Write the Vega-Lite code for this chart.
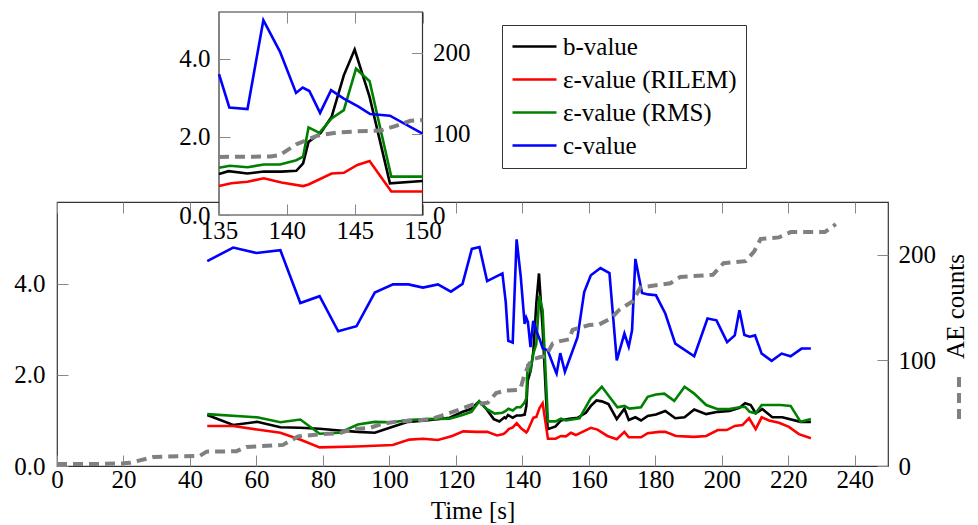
{
  "$schema": "https://vega.github.io/schema/vega-lite/v6.json",
  "width": 831,
  "height": 264,
  "autosize": {"type": "none"},
  "padding": {"left": 57, "top": 202, "right": 90, "bottom": 59},
  "background": "white",
  "config": {
    "font": "Liberation Serif",
    "view": {"stroke": "#333", "strokeWidth": 1.2},
    "axis": {
      "labelFont": "Liberation Serif", "labelFontSize": 25, "labelColor": "black",
      "titleFont": "Liberation Serif", "titleFontSize": 25, "titleFontWeight": "normal", "titleColor": "black",
      "tickColor": "#888", "tickSize": -11, "tickWidth": 1, "domain": false, "grid": false, "labelPadding": 6, "labelFlush": false, "labelOverlap": false
    },
    "legend": {
      "labelFont": "Liberation Serif", "labelFontSize": 25, "labelColor": "black", "labelLimit": 400
    }
  },
  "datasets": {
    "lines": [
      {"s":"b-value","t":45.2,"v":1.12},{"s":"b-value","t":53,"v":0.9},{"s":"b-value","t":60.2,"v":0.97},{"s":"b-value","t":67.2,"v":0.85},{"s":"b-value","t":73.2,"v":0.84},{"s":"b-value","t":79,"v":0.82},{"s":"b-value","t":85,"v":0.78},{"s":"b-value","t":90.5,"v":0.75},{"s":"b-value","t":95.6,"v":0.73},{"s":"b-value","t":101,"v":0.86},{"s":"b-value","t":105.6,"v":0.97},{"s":"b-value","t":111.1,"v":1.0},{"s":"b-value","t":118.1,"v":1.06},{"s":"b-value","t":122.1,"v":1.19},{"s":"b-value","t":124.5,"v":1.25},{"s":"b-value","t":127,"v":1.42},{"s":"b-value","t":129.1,"v":1.26},{"s":"b-value","t":131.4,"v":1.03},{"s":"b-value","t":133.1,"v":0.98},{"s":"b-value","t":134.6,"v":1.07},{"s":"b-value","t":135,"v":1.05},{"s":"b-value","t":135.7,"v":1.12},{"s":"b-value","t":137.1,"v":1.06},{"s":"b-value","t":138.3,"v":1.11},{"s":"b-value","t":139.6,"v":1.11},{"s":"b-value","t":140.7,"v":1.13},{"s":"b-value","t":141.2,"v":1.32},{"s":"b-value","t":141.6,"v":1.87},{"s":"b-value","t":142.5,"v":2.1},{"s":"b-value","t":143.3,"v":2.51},{"s":"b-value","t":144.2,"v":3.57},{"s":"b-value","t":145.0,"v":4.23},{"s":"b-value","t":146.1,"v":3.02},{"s":"b-value","t":147.6,"v":0.81},{"s":"b-value","t":150,"v":0.87},{"s":"b-value","t":151.6,"v":1.0},{"s":"b-value","t":154.1,"v":1.04},{"s":"b-value","t":156.6,"v":1.06},{"s":"b-value","t":159.1,"v":1.17},{"s":"b-value","t":160.6,"v":1.32},{"s":"b-value","t":162.3,"v":1.44},{"s":"b-value","t":163.9,"v":1.42},{"s":"b-value","t":165.9,"v":1.36},{"s":"b-value","t":168.4,"v":1.03},{"s":"b-value","t":170.7,"v":1.26},{"s":"b-value","t":172.0,"v":1.01},{"s":"b-value","t":174.0,"v":1.07},{"s":"b-value","t":175.7,"v":1.0},{"s":"b-value","t":177.7,"v":1.1},{"s":"b-value","t":180.2,"v":1.13},{"s":"b-value","t":183.0,"v":1.21},{"s":"b-value","t":186.0,"v":1.05},{"s":"b-value","t":188.8,"v":1.07},{"s":"b-value","t":191.7,"v":1.24},{"s":"b-value","t":195.3,"v":1.14},{"s":"b-value","t":198.8,"v":1.19},{"s":"b-value","t":202.3,"v":1.21},{"s":"b-value","t":205.3,"v":1.28},{"s":"b-value","t":207,"v":1.38},{"s":"b-value","t":208.7,"v":1.34},{"s":"b-value","t":210.2,"v":1.16},{"s":"b-value","t":212.2,"v":1.25},{"s":"b-value","t":215.2,"v":1.07},{"s":"b-value","t":218.2,"v":1.07},{"s":"b-value","t":223.7,"v":0.97},{"s":"b-value","t":226.8,"v":0.97},
      {"s":"ε-value (RILEM)","t":45.2,"v":0.88},{"s":"ε-value (RILEM)","t":53,"v":0.88},{"s":"ε-value (RILEM)","t":60.2,"v":0.8},{"s":"ε-value (RILEM)","t":67.2,"v":0.73},{"s":"ε-value (RILEM)","t":73.5,"v":0.57},{"s":"ε-value (RILEM)","t":79,"v":0.41},{"s":"ε-value (RILEM)","t":90,"v":0.43},{"s":"ε-value (RILEM)","t":101,"v":0.46},{"s":"ε-value (RILEM)","t":106,"v":0.58},{"s":"ε-value (RILEM)","t":110.1,"v":0.6},{"s":"ε-value (RILEM)","t":114.6,"v":0.57},{"s":"ε-value (RILEM)","t":118.9,"v":0.66},{"s":"ε-value (RILEM)","t":122.2,"v":0.76},{"s":"ε-value (RILEM)","t":126.2,"v":0.75},{"s":"ε-value (RILEM)","t":129.4,"v":0.75},{"s":"ε-value (RILEM)","t":132.4,"v":0.67},{"s":"ε-value (RILEM)","t":134.3,"v":0.7},{"s":"ε-value (RILEM)","t":135,"v":0.74},{"s":"ε-value (RILEM)","t":135.9,"v":0.81},{"s":"ε-value (RILEM)","t":137.1,"v":0.85},{"s":"ε-value (RILEM)","t":138.3,"v":0.94},{"s":"ε-value (RILEM)","t":139.6,"v":0.83},{"s":"ε-value (RILEM)","t":141.2,"v":0.74},{"s":"ε-value (RILEM)","t":141.6,"v":0.78},{"s":"ε-value (RILEM)","t":143.3,"v":1.06},{"s":"ε-value (RILEM)","t":144.2,"v":1.08},{"s":"ε-value (RILEM)","t":145.2,"v":1.28},{"s":"ε-value (RILEM)","t":146.1,"v":1.38},{"s":"ε-value (RILEM)","t":147.7,"v":0.6},{"s":"ε-value (RILEM)","t":150,"v":0.6},{"s":"ε-value (RILEM)","t":151.6,"v":0.66},{"s":"ε-value (RILEM)","t":153.1,"v":0.65},{"s":"ε-value (RILEM)","t":154.6,"v":0.73},{"s":"ε-value (RILEM)","t":156.1,"v":0.68},{"s":"ε-value (RILEM)","t":158.1,"v":0.75},{"s":"ε-value (RILEM)","t":160.6,"v":0.84},{"s":"ε-value (RILEM)","t":162.6,"v":0.8},{"s":"ε-value (RILEM)","t":165.6,"v":0.66},{"s":"ε-value (RILEM)","t":168.4,"v":0.59},{"s":"ε-value (RILEM)","t":170.7,"v":0.75},{"s":"ε-value (RILEM)","t":172.0,"v":0.63},{"s":"ε-value (RILEM)","t":175.7,"v":0.63},{"s":"ε-value (RILEM)","t":177.7,"v":0.72},{"s":"ε-value (RILEM)","t":181.2,"v":0.75},{"s":"ε-value (RILEM)","t":183.0,"v":0.75},{"s":"ε-value (RILEM)","t":186.2,"v":0.66},{"s":"ε-value (RILEM)","t":191.7,"v":0.64},{"s":"ε-value (RILEM)","t":195.3,"v":0.66},{"s":"ε-value (RILEM)","t":198.8,"v":0.79},{"s":"ε-value (RILEM)","t":201.5,"v":0.79},{"s":"ε-value (RILEM)","t":203.9,"v":0.88},{"s":"ε-value (RILEM)","t":206.2,"v":0.9},{"s":"ε-value (RILEM)","t":208.2,"v":1.05},{"s":"ε-value (RILEM)","t":210.2,"v":0.81},{"s":"ε-value (RILEM)","t":212,"v":1.07},{"s":"ε-value (RILEM)","t":214.2,"v":1.0},{"s":"ε-value (RILEM)","t":217.2,"v":0.95},{"s":"ε-value (RILEM)","t":220.2,"v":0.86},{"s":"ε-value (RILEM)","t":223.2,"v":0.7},{"s":"ε-value (RILEM)","t":226.8,"v":0.61},
      {"s":"ε-value (RMS)","t":45.2,"v":1.14},{"s":"ε-value (RMS)","t":60.2,"v":1.07},{"s":"ε-value (RMS)","t":67.2,"v":0.96},{"s":"ε-value (RMS)","t":73.2,"v":1.02},{"s":"ε-value (RMS)","t":79,"v":0.71},{"s":"ε-value (RMS)","t":85,"v":0.73},{"s":"ε-value (RMS)","t":90.5,"v":0.91},{"s":"ε-value (RMS)","t":95.6,"v":0.97},{"s":"ε-value (RMS)","t":101,"v":0.96},{"s":"ε-value (RMS)","t":105.6,"v":1.01},{"s":"ε-value (RMS)","t":111,"v":1.03},{"s":"ε-value (RMS)","t":118.1,"v":1.04},{"s":"ε-value (RMS)","t":122,"v":1.12},{"s":"ε-value (RMS)","t":124.7,"v":1.19},{"s":"ε-value (RMS)","t":127,"v":1.42},{"s":"ε-value (RMS)","t":129.1,"v":1.26},{"s":"ε-value (RMS)","t":131.7,"v":1.15},{"s":"ε-value (RMS)","t":134,"v":1.17},{"s":"ε-value (RMS)","t":135,"v":1.21},{"s":"ε-value (RMS)","t":135.8,"v":1.26},{"s":"ε-value (RMS)","t":137.1,"v":1.22},{"s":"ε-value (RMS)","t":138.3,"v":1.29},{"s":"ε-value (RMS)","t":139.5,"v":1.29},{"s":"ε-value (RMS)","t":140.7,"v":1.4},{"s":"ε-value (RMS)","t":141.2,"v":1.49},{"s":"ε-value (RMS)","t":141.6,"v":2.24},{"s":"ε-value (RMS)","t":142.4,"v":2.1},{"s":"ε-value (RMS)","t":143.3,"v":2.47},{"s":"ε-value (RMS)","t":144.2,"v":2.68},{"s":"ε-value (RMS)","t":145.1,"v":3.74},{"s":"ε-value (RMS)","t":146.1,"v":3.42},{"s":"ε-value (RMS)","t":147.7,"v":0.98},{"s":"ε-value (RMS)","t":150,"v":0.98},{"s":"ε-value (RMS)","t":151.6,"v":1.04},{"s":"ε-value (RMS)","t":153.1,"v":1.0},{"s":"ε-value (RMS)","t":157.2,"v":1.05},{"s":"ε-value (RMS)","t":160.6,"v":1.49},{"s":"ε-value (RMS)","t":161.6,"v":1.56},{"s":"ε-value (RMS)","t":163.9,"v":1.74},{"s":"ε-value (RMS)","t":168.6,"v":1.29},{"s":"ε-value (RMS)","t":170.7,"v":1.32},{"s":"ε-value (RMS)","t":172.2,"v":1.26},{"s":"ε-value (RMS)","t":175.7,"v":1.29},{"s":"ε-value (RMS)","t":177.7,"v":1.52},{"s":"ε-value (RMS)","t":180.2,"v":1.57},{"s":"ε-value (RMS)","t":182.7,"v":1.59},{"s":"ε-value (RMS)","t":185.7,"v":1.43},{"s":"ε-value (RMS)","t":188.8,"v":1.74},{"s":"ε-value (RMS)","t":191.7,"v":1.59},{"s":"ε-value (RMS)","t":195.3,"v":1.34},{"s":"ε-value (RMS)","t":198.8,"v":1.25},{"s":"ε-value (RMS)","t":202.3,"v":1.25},{"s":"ε-value (RMS)","t":205.3,"v":1.29},{"s":"ε-value (RMS)","t":207.0,"v":1.3},{"s":"ε-value (RMS)","t":208.4,"v":1.19},{"s":"ε-value (RMS)","t":210.2,"v":1.16},{"s":"ε-value (RMS)","t":212,"v":1.34},{"s":"ε-value (RMS)","t":217.7,"v":1.34},{"s":"ε-value (RMS)","t":220.7,"v":1.32},{"s":"ε-value (RMS)","t":223.7,"v":0.97},{"s":"ε-value (RMS)","t":226.8,"v":1.03},
      {"s":"c-value","t":45.2,"v":4.5},{"s":"c-value","t":53,"v":4.8},{"s":"c-value","t":60,"v":4.68},{"s":"c-value","t":67.2,"v":4.74},{"s":"c-value","t":73.2,"v":3.58},{"s":"c-value","t":79,"v":3.73},{"s":"c-value","t":84.6,"v":2.96},{"s":"c-value","t":90.1,"v":3.07},{"s":"c-value","t":95.6,"v":3.81},{"s":"c-value","t":101.1,"v":3.99},{"s":"c-value","t":105.7,"v":3.99},{"s":"c-value","t":110.1,"v":3.92},{"s":"c-value","t":114.6,"v":3.99},{"s":"c-value","t":118.5,"v":3.83},{"s":"c-value","t":122,"v":4.0},{"s":"c-value","t":124.8,"v":4.77},{"s":"c-value","t":127.1,"v":4.81},{"s":"c-value","t":129.4,"v":4.06},{"s":"c-value","t":134,"v":4.23},{"s":"c-value","t":135,"v":3.6},{"s":"c-value","t":135.76,"v":2.75},{"s":"c-value","t":137.1,"v":2.71},{"s":"c-value","t":138.27,"v":4.98},{"s":"c-value","t":139.5,"v":4.17},{"s":"c-value","t":140.68,"v":3.12},{"s":"c-value","t":141.17,"v":3.26},{"s":"c-value","t":141.66,"v":3.17},{"s":"c-value","t":142.45,"v":2.61},{"s":"c-value","t":143.26,"v":3.19},{"s":"c-value","t":144.17,"v":2.98},{"s":"c-value","t":145.28,"v":2.77},{"s":"c-value","t":146.14,"v":2.58},{"s":"c-value","t":147.6,"v":2.54},{"s":"c-value","t":150,"v":2.08},{"s":"c-value","t":150.3,"v":2.03},{"s":"c-value","t":151.4,"v":2.48},{"s":"c-value","t":152.8,"v":2.07},{"s":"c-value","t":156.6,"v":2.83},{"s":"c-value","t":158.6,"v":3.82},{"s":"c-value","t":160.6,"v":4.19},{"s":"c-value","t":163.5,"v":4.35},{"s":"c-value","t":166.2,"v":4.24},{"s":"c-value","t":168.4,"v":2.32},{"s":"c-value","t":170.7,"v":2.91},{"s":"c-value","t":172.0,"v":2.62},{"s":"c-value","t":173.0,"v":2.98},{"s":"c-value","t":174.0,"v":4.55},{"s":"c-value","t":176.0,"v":3.8},{"s":"c-value","t":177.8,"v":3.77},{"s":"c-value","t":180.2,"v":3.75},{"s":"c-value","t":183.0,"v":3.35},{"s":"c-value","t":186.0,"v":2.69},{"s":"c-value","t":191.7,"v":2.41},{"s":"c-value","t":195.7,"v":3.24},{"s":"c-value","t":198.4,"v":3.2},{"s":"c-value","t":201.6,"v":2.72},{"s":"c-value","t":203.9,"v":2.87},{"s":"c-value","t":205.3,"v":3.42},{"s":"c-value","t":206.8,"v":2.88},{"s":"c-value","t":208.4,"v":2.84},{"s":"c-value","t":210.0,"v":2.87},{"s":"c-value","t":212.0,"v":2.47},{"s":"c-value","t":215.0,"v":2.31},{"s":"c-value","t":218.0,"v":2.47},{"s":"c-value","t":220.7,"v":2.41},{"s":"c-value","t":224.0,"v":2.58},{"s":"c-value","t":226.8,"v":2.58}
    ],
    "ae": [
      {"t":0,"ae":2},{"t":13,"ae":2},{"t":20,"ae":2.5},{"t":22,"ae":3},{"t":29,"ae":8.5},{"t":43,"ae":9.7},{"t":45,"ae":13.6},{"t":54,"ae":14},{"t":57,"ae":18},{"t":68,"ae":20},{"t":72.5,"ae":28},{"t":79,"ae":30},{"t":85,"ae":31},{"t":89,"ae":35},{"t":94,"ae":36},{"t":98,"ae":40},{"t":102,"ae":42},{"t":112,"ae":44},{"t":116,"ae":48},{"t":118,"ae":50},{"t":125,"ae":58},{"t":129.6,"ae":60},{"t":132.1,"ae":69},{"t":135,"ae":71.5},{"t":138.8,"ae":72},{"t":139.5,"ae":74},{"t":140.7,"ae":87},{"t":142.2,"ae":97.5},{"t":143.7,"ae":101.6},{"t":145.2,"ae":103},{"t":146.9,"ae":104},{"t":148.1,"ae":110},{"t":149.1,"ae":116},{"t":150,"ae":117},{"t":151.1,"ae":118},{"t":154.1,"ae":120},{"t":155.1,"ae":129},{"t":160.1,"ae":133.5},{"t":163.1,"ae":134},{"t":166.7,"ae":140},{"t":169.2,"ae":148},{"t":173.2,"ae":156},{"t":175.5,"ae":169},{"t":184.5,"ae":173},{"t":187.5,"ae":179},{"t":197.3,"ae":181},{"t":200.5,"ae":192},{"t":207.2,"ae":194},{"t":209.7,"ae":203},{"t":211.7,"ae":215},{"t":217.2,"ae":216.5},{"t":220.7,"ae":221.5},{"t":231,"ae":221.5},{"t":234.3,"ae":229}
    ]
  },
  "layer": [
    {
      "layer": [
        {
          "data": {"name": "lines"},
          "mark": {"type": "line", "strokeWidth": 2.6},
          "encoding": {
            "x": {"field": "t", "type": "quantitative", "scale": {"domain": [0, 250], "nice": false},
                  "axis": {"orient": "bottom", "values": [0,20,40,60,80,100,120,140,160,180,200,220,240], "title": "Time [s]", "titlePadding": 6, "labelPadding": 12}},
            "y": {"field": "v", "type": "quantitative", "scale": {"domain": [0, 5.8], "nice": false},
                  "axis": {"orient": "left", "values": [0, 2, 4], "format": ".1f", "title": null, "labelPadding": 23}},
            "color": {"field": "s", "type": "nominal",
                      "scale": {"domain": ["b-value", "ε-value (RILEM)", "ε-value (RMS)", "c-value"], "range": ["#000000", "#ff0000", "#008000", "#0000ff"]},
                      "legend": {"orient": "none", "legendX": 445, "legendY": -177, "title": null, "symbolType": "M-2,0L2,0", "symbolSize": 484, "symbolStrokeWidth": 2.6, "symbolOffset": 11, "labelOffset": 16, "strokeColor": "#333", "fillColor": "white", "padding": 9, "rowPadding": 7, "labelLimit": 400}}
          }
        },
        {
          "data": {"name": "ae"},
          "mark": {"type": "line", "strokeWidth": 4, "strokeDash": [10, 6]},
          "encoding": {
            "x": {"field": "t", "type": "quantitative", "scale": {"domain": [0, 250], "nice": false},
                  "axis": {"orient": "top", "values": [0,20,40,60,80,100,120,140,160,180,200,220,240], "labels": false, "title": null}},
            "y": {"field": "ae", "type": "quantitative", "scale": {"domain": [0, 250], "nice": false},
                  "axis": {"orient": "right", "values": [0, 100, 200], "title": "AE counts", "titleAngle": 270, "titleBaseline": "top", "titleY": 104, "titlePadding": 8, "labelPadding": 21}},
            "stroke": {"datum": "AE counts", "type": "nominal", "scale": {"domain": ["AE counts"], "range": ["#808080"]},
                       "legend": {"orient": "none", "legendX": 879, "legendY": 173, "title": null, "symbolType": "M0,-1L0,1", "symbolSize": 1764, "symbolStrokeWidth": 4, "symbolDash": [10, 6], "labelExpr": "''", "padding": 0, "labelOffset": 0}}
          }
        }
      ],
      "resolve": {"scale": {"y": "independent"}, "axis": {"x": "independent"}}
    },
    {
      "layer": [
        {
          "data": {"values": [{"k": "inset"}]},
          "mark": {"type": "rect", "fill": "white", "stroke": "#333", "strokeWidth": 1.2},
          "encoding": {
            "x": {"datum": 135, "type": "quantitative", "scale": {"domain": [135, 150], "range": [162, 365.5], "nice": false},
                  "axis": {"orient": "top", "offset": 190, "values": [135, 140, 145, 150], "labels": false, "title": null, "zindex": 1}},
            "x2": {"datum": 150},
            "y": {"datum": 0, "type": "quantitative", "scale": {"domain": [0, 5.19], "range": [13, -190], "nice": false}, "axis": null},
            "y2": {"datum": 5.19}
          }
        },
        {
          "data": {"name": "lines"},
          "transform": [{"filter": "datum.t >= 135 && datum.t <= 150"}],
          "mark": {"type": "line", "strokeWidth": 2.6},
          "encoding": {
            "x": {"field": "t", "type": "quantitative", "scale": {"domain": [135, 150], "range": [162, 365.5], "nice": false},
                  "axis": {"orient": "bottom", "offset": -251, "values": [135, 140, 145, 150], "title": null, "zindex": 1, "labelPadding": 14}},
            "y": {"field": "v", "type": "quantitative", "scale": {"domain": [0, 5.19], "range": [13, -190], "nice": false},
                  "axis": {"orient": "left", "offset": -162, "values": [0, 2, 4], "format": ".1f", "title": null, "zindex": 1, "labelPadding": 20}},
            "color": {"field": "s", "type": "nominal",
                      "scale": {"domain": ["b-value", "ε-value (RILEM)", "ε-value (RMS)", "c-value"], "range": ["#000000", "#ff0000", "#008000", "#0000ff"]}}
          }
        },
        {
          "data": {"name": "ae"},
          "transform": [{"filter": "datum.t >= 135 && datum.t <= 150"}],
          "mark": {"type": "line", "color": "#808080", "strokeWidth": 4, "strokeDash": [10, 6]},
          "encoding": {
            "x": {"field": "t", "type": "quantitative", "scale": {"domain": [135, 150], "range": [162, 365.5], "nice": false}, "axis": null},
            "y": {"field": "ae", "type": "quantitative", "scale": {"domain": [0, 250], "range": [13, -190], "nice": false},
                  "axis": {"orient": "right", "offset": -465.5, "values": [0, 100, 200], "title": null, "zindex": 1, "labelPadding": 21}}
          }
        }
      ],
      "resolve": {"scale": {"y": "independent"}, "axis": {"x": "independent"}}
    }
  ],
  "resolve": {"scale": {"x": "independent", "y": "independent"}}
}
